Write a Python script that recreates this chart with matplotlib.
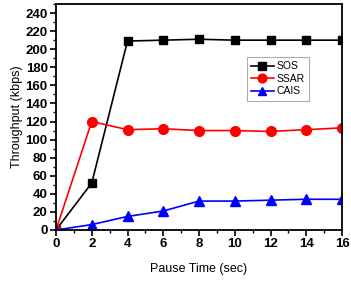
import numpy as np
import matplotlib
matplotlib.use('Agg')
import matplotlib.pyplot as plt
from matplotlib.ticker import MultipleLocator

plt.rcParams['font.family'] = ['Liberation Sans', 'DejaVu Sans']

pause = [0, 2, 4, 6, 8, 10, 12, 14, 16]
sos = [0, 52, 209, 210, 211, 210, 210, 210, 210]
ssar = [0, 120, 111, 112, 110, 110, 109, 111, 113]
cais = [0, 6, 15, 21, 32, 32, 33, 34, 34]

fig = plt.figure(figsize=(3.51, 2.81), dpi=100)
ax = fig.add_axes([56/351, 51/281, 286/351, 226/281])

ax.plot(pause, sos, color='black', marker='s', markersize=6, lw=1.2, label='SOS')
ax.plot(pause, ssar, color='red', marker='o', markersize=7, lw=1.2, label='SSAR')
ax.plot(pause, cais, color='blue', marker='^', markersize=7, lw=1.2, label='CAIS')

ax.set_xlim(0, 16)
ax.set_ylim(0, 250)
ax.xaxis.set_major_locator(MultipleLocator(2))
ax.xaxis.set_minor_locator(MultipleLocator(1))
ax.yaxis.set_major_locator(MultipleLocator(20))
ax.yaxis.set_minor_locator(MultipleLocator(10))
ax.tick_params(which='major', length=4, width=1.2, labelsize=9.5, pad=2)
ax.tick_params(which='minor', length=2.5, width=1.0)
for lab in ax.get_xticklabels() + ax.get_yticklabels():
    lab.set_fontweight('bold')
for s in ax.spines.values():
    s.set_linewidth(1.3)

ax.set_xlabel('Pause Time (sec)', fontsize=9, labelpad=9)
ax.set_ylabel('Throughput (kbps)', fontsize=9, labelpad=2)

leg = ax.legend(loc='upper right', bbox_to_anchor=(0.885, 0.765), fontsize=7.5,
                frameon=True, fancybox=False, edgecolor='#999999',
                handlelength=2.2, handletextpad=0.3, borderpad=0.4,
                labelspacing=0.25, markerscale=0.9, borderaxespad=0)
leg.get_frame().set_linewidth(0.8)

fig.savefig('out.png', dpi=100)
